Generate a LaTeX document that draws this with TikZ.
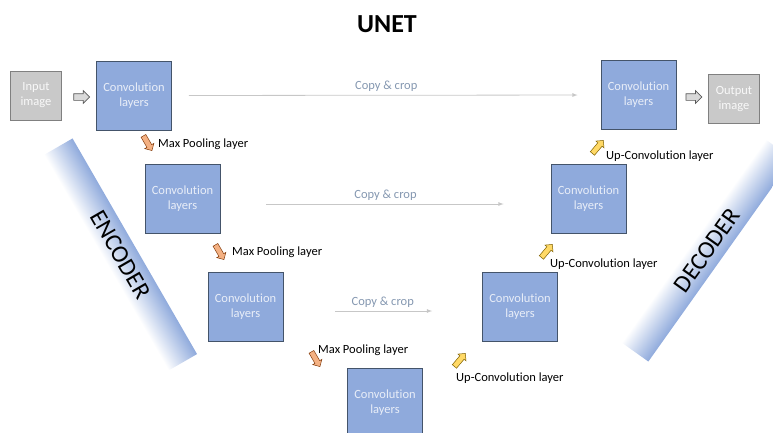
\documentclass[tikz,border=0pt]{standalone}
\usepackage{fontspec}
\setmainfont{Carlito}[Ligatures=NoCommon]
\usepackage{tikz}
\usetikzlibrary{arrows,calc,shapes.arrows}

\definecolor{convblue}{HTML}{8FAADC}
\definecolor{convedge}{HTML}{44546A}
\definecolor{convtext}{HTML}{E9EEF8}
\definecolor{imgfill}{HTML}{C9C9C9}
\definecolor{imgedge}{HTML}{808080}
\definecolor{copygray}{HTML}{8497B0}
\definecolor{poolfill}{HTML}{F4B183}
\definecolor{pooledge}{HTML}{843C0C}
\definecolor{upfill}{HTML}{FFD966}
\definecolor{upedge}{HTML}{7F6000}

\tikzset{
  conv/.style={draw=convedge, fill=convblue, line width=0.8pt,
    minimum width=75pt, minimum height=69pt, inner sep=0pt,
    align=center, text=convtext, font=\fontsize{12.5}{15}\selectfont},
  imgbox/.style={draw=imgedge, fill=imgfill, line width=0.8pt,
    minimum width=51pt, minimum height=49pt, inner sep=0pt,
    align=center, text=white!95!gray, font=\fontsize{12.5}{15}\selectfont},
  hollow/.style={single arrow, draw=black!65, fill=black!15, line width=0.7pt,
    minimum height=16pt, inner sep=3pt, single arrow head extend=3pt},
  poolarrow/.style={single arrow, draw=pooledge, fill=poolfill, line width=0.5pt,
    minimum height=17pt, inner sep=2.5pt, single arrow head extend=2.5pt},
  uparrow/.style={single arrow, draw=upedge, fill=upfill, line width=0.5pt,
    minimum height=17pt, inner sep=2.5pt, single arrow head extend=2.5pt},
  lbl/.style={anchor=west, inner sep=0pt, font=\fontsize{12.5}{15}\selectfont},
  copyline/.style={draw=black!22, line width=0.8pt, -latex},
  copytxt/.style={text=copygray, font=\fontsize{12.5}{15}\selectfont},
  band/.style={minimum width=249pt, minimum height=33pt, inner sep=0pt,
    font=\fontsize{24.5}{28}\selectfont}
}

\begin{document}
\begin{tikzpicture}[x=1pt,y=-1pt]
\clip (0,0) rectangle (773,432);

% encoder / decoder bands (canvas turned so the shading turns too)
\begin{scope}[transform canvas={rotate around={-60:(120.5,254.5)}}]
  \node[band, top color=convblue, bottom color=white] (encband) at (120.5,254.5) {ENCODER};
\end{scope}
\begin{scope}[transform canvas={rotate around={54.6:(707,250.5)}}]
  \node[band, top color=white, bottom color=convblue] (decband) at (707,250.5) {DECODER};
\end{scope}

\node[font=\bfseries\fontsize{26}{30}\selectfont] (title) at (387,24) {UNET};

% input and output
\node[imgbox] (input) at (36,95.5) {Input\\image};
\node[imgbox] (output) at (734,99) {Output\\image};

% contracting path
\node[conv] (enc1) at (134,95.5) {Convolution\\layers};
\node[conv] (enc2) at (182.5,199) {Convolution\\layers};
\node[conv] (enc3) at (245.5,306.5) {Convolution\\layers};
\node[conv] (bottom) at (385,403) {Convolution\\layers};

% expanding path
\node[conv] (dec3) at (520,306.5) {Convolution\\layers};
\node[conv] (dec2) at (588.5,199) {Convolution\\layers};
\node[conv] (dec1) at (638.5,95) {Convolution\\layers};

\node[hollow] (inarrow) at ($(input.east)!0.5!(enc1.west)+(1,1.5)$) {};
\node[hollow] (outarrow) at ($(dec1.east)!0.5!(output.west)+(0,0)$) {};

% skip connections
\draw[copyline, shorten <=17pt, shorten >=23pt] (enc1.east) -- node[copytxt, above] {Copy \& crop} (dec1.west);
\draw[copyline, shorten <=46pt, shorten >=47pt] ([yshift=-5pt]enc2.east) -- node[copytxt, above] {Copy \& crop} ([yshift=-5pt]dec2.west);
\draw[copyline, shorten <=52pt, shorten >=50pt] ([yshift=-4.5pt]enc3.east) -- node[copytxt, above] {Copy \& crop} ([yshift=-4.5pt]dec3.west);

% pooling steps
\node[poolarrow, rotate=-60] (pool1) at (147,142) {};
\node[lbl] (pool1txt) at (158,144) {Max Pooling layer};
\node[poolarrow, rotate=-60] (pool2) at (219,251) {};
\node[lbl] (pool2txt) at (232,252) {Max Pooling layer};
\node[poolarrow, rotate=-60] (pool3) at (315,358) {};
\node[lbl] (pool3txt) at (318,350) {Max Pooling layer};

% up-convolution steps
\node[uparrow, rotate=50] (up3) at (459,361) {};
\node[lbl] (up3txt) at (456,378) {Up-Convolution layer};
\node[uparrow, rotate=50] (up2) at (546,252) {};
\node[lbl] (up2txt) at (550,264) {Up-Convolution layer};
\node[uparrow, rotate=50] (up1) at (597,148) {};
\node[lbl] (up1txt) at (606,156) {Up-Convolution layer};
\end{tikzpicture}
\end{document}
